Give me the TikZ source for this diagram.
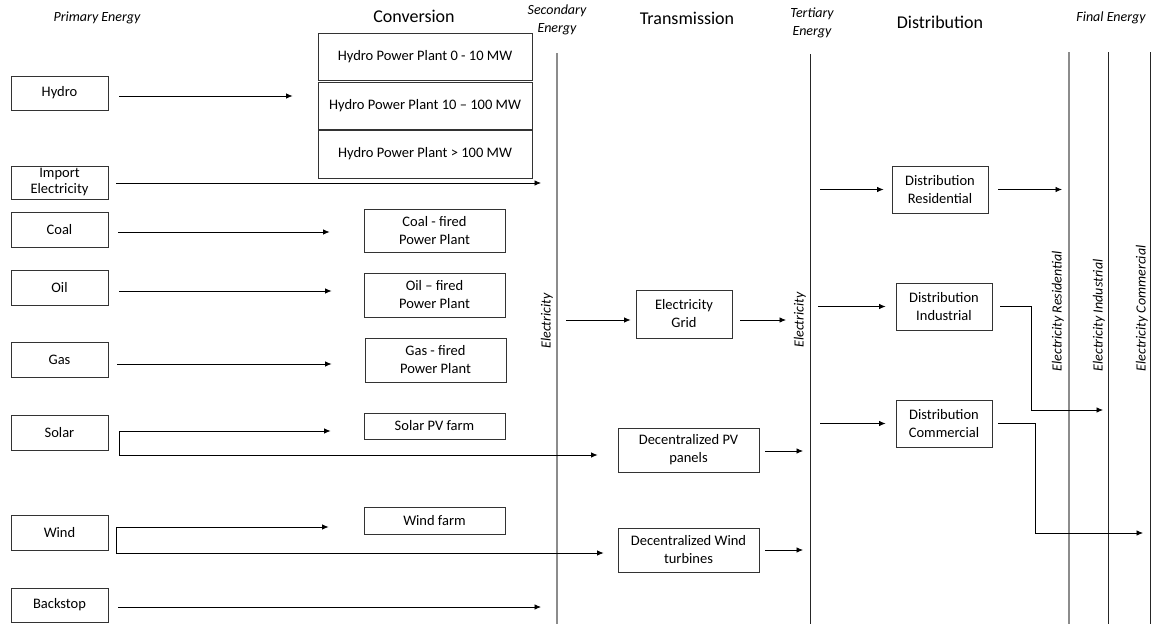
\documentclass[tikz,border=0pt]{standalone}
\usepackage{fontspec}
\setmainfont{Carlito}
\usetikzlibrary{arrows.meta}
\tikzset{
  box/.style={draw=black!80, line width=0.8pt, inner sep=0pt, align=center, font=\fontsize{14.5}{18}\selectfont},
  head/.style={font=\fontsize{18}{20}\selectfont},
  ital/.style={font=\fontsize{14}{18}\selectfont\itshape, align=center},
  arr/.style={line width=0.8pt, -{Latex[length=6.5pt,width=5.5pt]}},
  conn/.style={line width=0.8pt},
  gline/.style={draw=black!45, line width=1.2pt},
  dline/.style={draw=black!85, line width=1pt}
}
\begin{document}
\begin{tikzpicture}[x=1pt,y=-1pt]
\useasboundingbox (0,0) rectangle (1152,624);
% headers
\node[ital] (hprim) at (97,18) {Primary Energy};
\node[head] (hconv) at (414,16) {Conversion};
\node[ital] (hsec) at (557,19.5) {Secondary\\Energy};
\node[head] (htrans) at (687,18) {Transmission};
\node[ital] (hter) at (812,22.5) {Tertiary\\Energy};
\node[head] (hdist) at (940,22) {Distribution};
\node[ital] (hfin) at (1111,18) {Final Energy};
% vertical lines
\coordinate (secT) at (557,53); \coordinate (secB) at (557,624);
\coordinate (terT) at (810,54); \coordinate (terB) at (810,624);
\coordinate (fresT) at (1069,52); \coordinate (fresB) at (1069,624);
\coordinate (findT) at (1108,52); \coordinate (findB) at (1108,624);
\coordinate (fcomT) at (1150,52); \coordinate (fcomB) at (1150,624);
\draw[gline] (secT) -- (secB);
\draw[dline] (terT) -- (terB);
\draw[gline, line width=1.8pt] (fresT) -- (fresB);
\draw[dline] (findT) -- (findB);
\draw[dline] (fcomT) -- (fcomB);
% rotated labels
\node[ital, rotate=90] (lsec) at (547,321) {Electricity};
\node[ital, rotate=90] (lter) at (800,320) {Electricity};
\node[ital, rotate=90, anchor=west] (lres) at (1058,375) {Electricity Residential};
\node[ital, rotate=90, anchor=west] (lind) at (1099,375) {Electricity Industrial};
\node[ital, rotate=90, anchor=west] (lcom) at (1142,375) {Electricity Commercial};
% primary
\node[box, minimum width=97pt, minimum height=34pt] (hydro) at (59.5,93) {Hydro};
\node[box, minimum width=97pt, minimum height=33pt, font=\fontsize{14.5}{16}\selectfont] (import) at (59.5,182.5) {Import\\Electricity};
\node[box, minimum width=97pt, minimum height=35pt] (coal) at (59.5,229.5) {Coal};
\node[box, minimum width=97pt, minimum height=35pt] (oil) at (59.5,287.5) {Oil};
\node[box, minimum width=97pt, minimum height=35pt] (gas) at (59.5,359.5) {Gas};
\node[box, minimum width=97pt, minimum height=35pt] (solar) at (59.5,432.5) {Solar};
\node[box, minimum width=97pt, minimum height=35pt] (wind) at (59.5,532.5) {Wind};
\node[box, minimum width=97pt, minimum height=34pt] (backstop) at (59.5,605) {Backstop};
% conversion
\node[box, minimum width=214pt, minimum height=47pt] (h1) at (425,56.5) {Hydro Power Plant 0 - 10 MW};
\node[box, minimum width=214pt, minimum height=47pt] (h2) at (425,105.5) {Hydro Power Plant 10 – 100 MW};
\node[box, minimum width=214pt, minimum height=48pt] (h3) at (425,154) {Hydro Power Plant > 100 MW};
\node[box, minimum width=141pt, minimum height=43pt] (coalf) at (434.5,230.5) {Coal - fired\\Power Plant};
\node[box, minimum width=141pt, minimum height=44pt] (oilf) at (434.5,295) {Oil – fired\\Power Plant};
\node[box, minimum width=141pt, minimum height=44pt] (gasf) at (435.5,360) {Gas - fired\\Power Plant};
\node[box, minimum width=141pt, minimum height=26pt] (pvf) at (434.5,426) {Solar PV farm};
\node[box, minimum width=141pt, minimum height=27pt] (windf) at (434.5,521) {Wind farm};
% transmission
\node[box, minimum width=96pt, minimum height=48pt] (grid) at (684,314) {Electricity\\Grid};
\node[box, minimum width=141pt, minimum height=44pt] (pvp) at (688.5,450) {Decentralized PV\\panels};
\node[box, minimum width=141pt, minimum height=44pt] (wtb) at (688.5,550) {Decentralized Wind\\turbines};
% distribution
\node[box, minimum width=96pt, minimum height=47pt] (dres) at (940,189.5) {Distribution\\Residential};
\node[box, minimum width=96pt, minimum height=47pt] (dind) at (944,306.5) {Distribution\\Industrial};
\node[box, minimum width=96pt, minimum height=47pt] (dcom) at (944,423.5) {Distribution\\Commercial};
% primary -> conversion
\draw[arr, shorten <=11pt, shorten >=25pt] ([yshift=-3pt]hydro.east) -- ([yshift=-3pt]hydro.east -| h2.west);
\draw[arr, shorten <=8pt, shorten >=16pt] ([yshift=-0.5pt]import.east) -- ([yshift=-0.5pt]import.east -| secT);
\draw[arr, shorten <=10pt, shorten >=34pt] ([yshift=-2.5pt]coal.east) -- ([yshift=-2.5pt]coal.east -| coalf.west);
\draw[arr, shorten <=11pt, shorten >=32pt] ([yshift=-3.5pt]oil.east) -- ([yshift=-3.5pt]oil.east -| oilf.west);
\draw[arr, shorten <=9pt, shorten >=33pt] ([yshift=-4.5pt]gas.east) -- ([yshift=-4.5pt]gas.east -| gasf.west);
\coordinate (sj) at (119,431); \coordinate (sk) at (119,455);
\draw[conn] (sj) -- (sk);
\draw[arr, shorten >=33pt] (sj) -- (sj -| pvf.west);
\draw[arr, shorten >=20pt] (sk) -- (sk -| pvp.west);
\coordinate (wj) at (116,527); \coordinate (wk) at (116,553);
\draw[conn] (wj) -- (wk);
\draw[arr, shorten >=35pt] (wj) -- (wj -| windf.west);
\draw[arr, shorten >=14pt] (wk) -- (wk -| wtb.west);
\draw[arr, shorten <=10pt, shorten >=16pt] ([yshift=-2pt]backstop.east) -- ([yshift=-2pt]backstop.east -| secT);
% transmission
\coordinate (s1) at (557,320); \coordinate (t1) at (810,320);
\draw[arr, shorten <=9pt, shorten >=5pt] (s1) -- (s1 -| grid.west);
\draw[arr, shorten <=8pt, shorten >=24pt] (grid.east |- t1) -- (t1);
\draw[arr, shorten <=6pt, shorten >=7pt] ([yshift=-1pt]pvp.east) -- ([yshift=-1pt]pvp.east -| terT);
\draw[arr, shorten <=6pt, shorten >=7pt] (wtb.east) -- (wtb.east -| terT);
% distribution
\draw[arr, shorten <=10pt, shorten >=8pt] (dres.west -| terT) -- (dres.west);
\draw[arr, shorten <=10pt, shorten >=7pt] (dres.east) -- (dres.east -| fresT);
\draw[arr, shorten <=8pt, shorten >=10pt] (dind.west -| terT) -- (dind.west);
\draw[arr, shorten <=10pt, shorten >=10pt] (dcom.west -| terT) -- (dcom.west);
\coordinate (ci) at (1031,410); \coordinate (cc) at (1035,533);
\draw[arr, shorten >=5pt] ([xshift=8pt]dind.east) -| (ci) -- (ci -| findT);
\draw[arr, shorten >=7pt] ([xshift=6pt]dcom.east) -| (cc) -- (cc -| fcomT);
\end{tikzpicture}
\end{document}
